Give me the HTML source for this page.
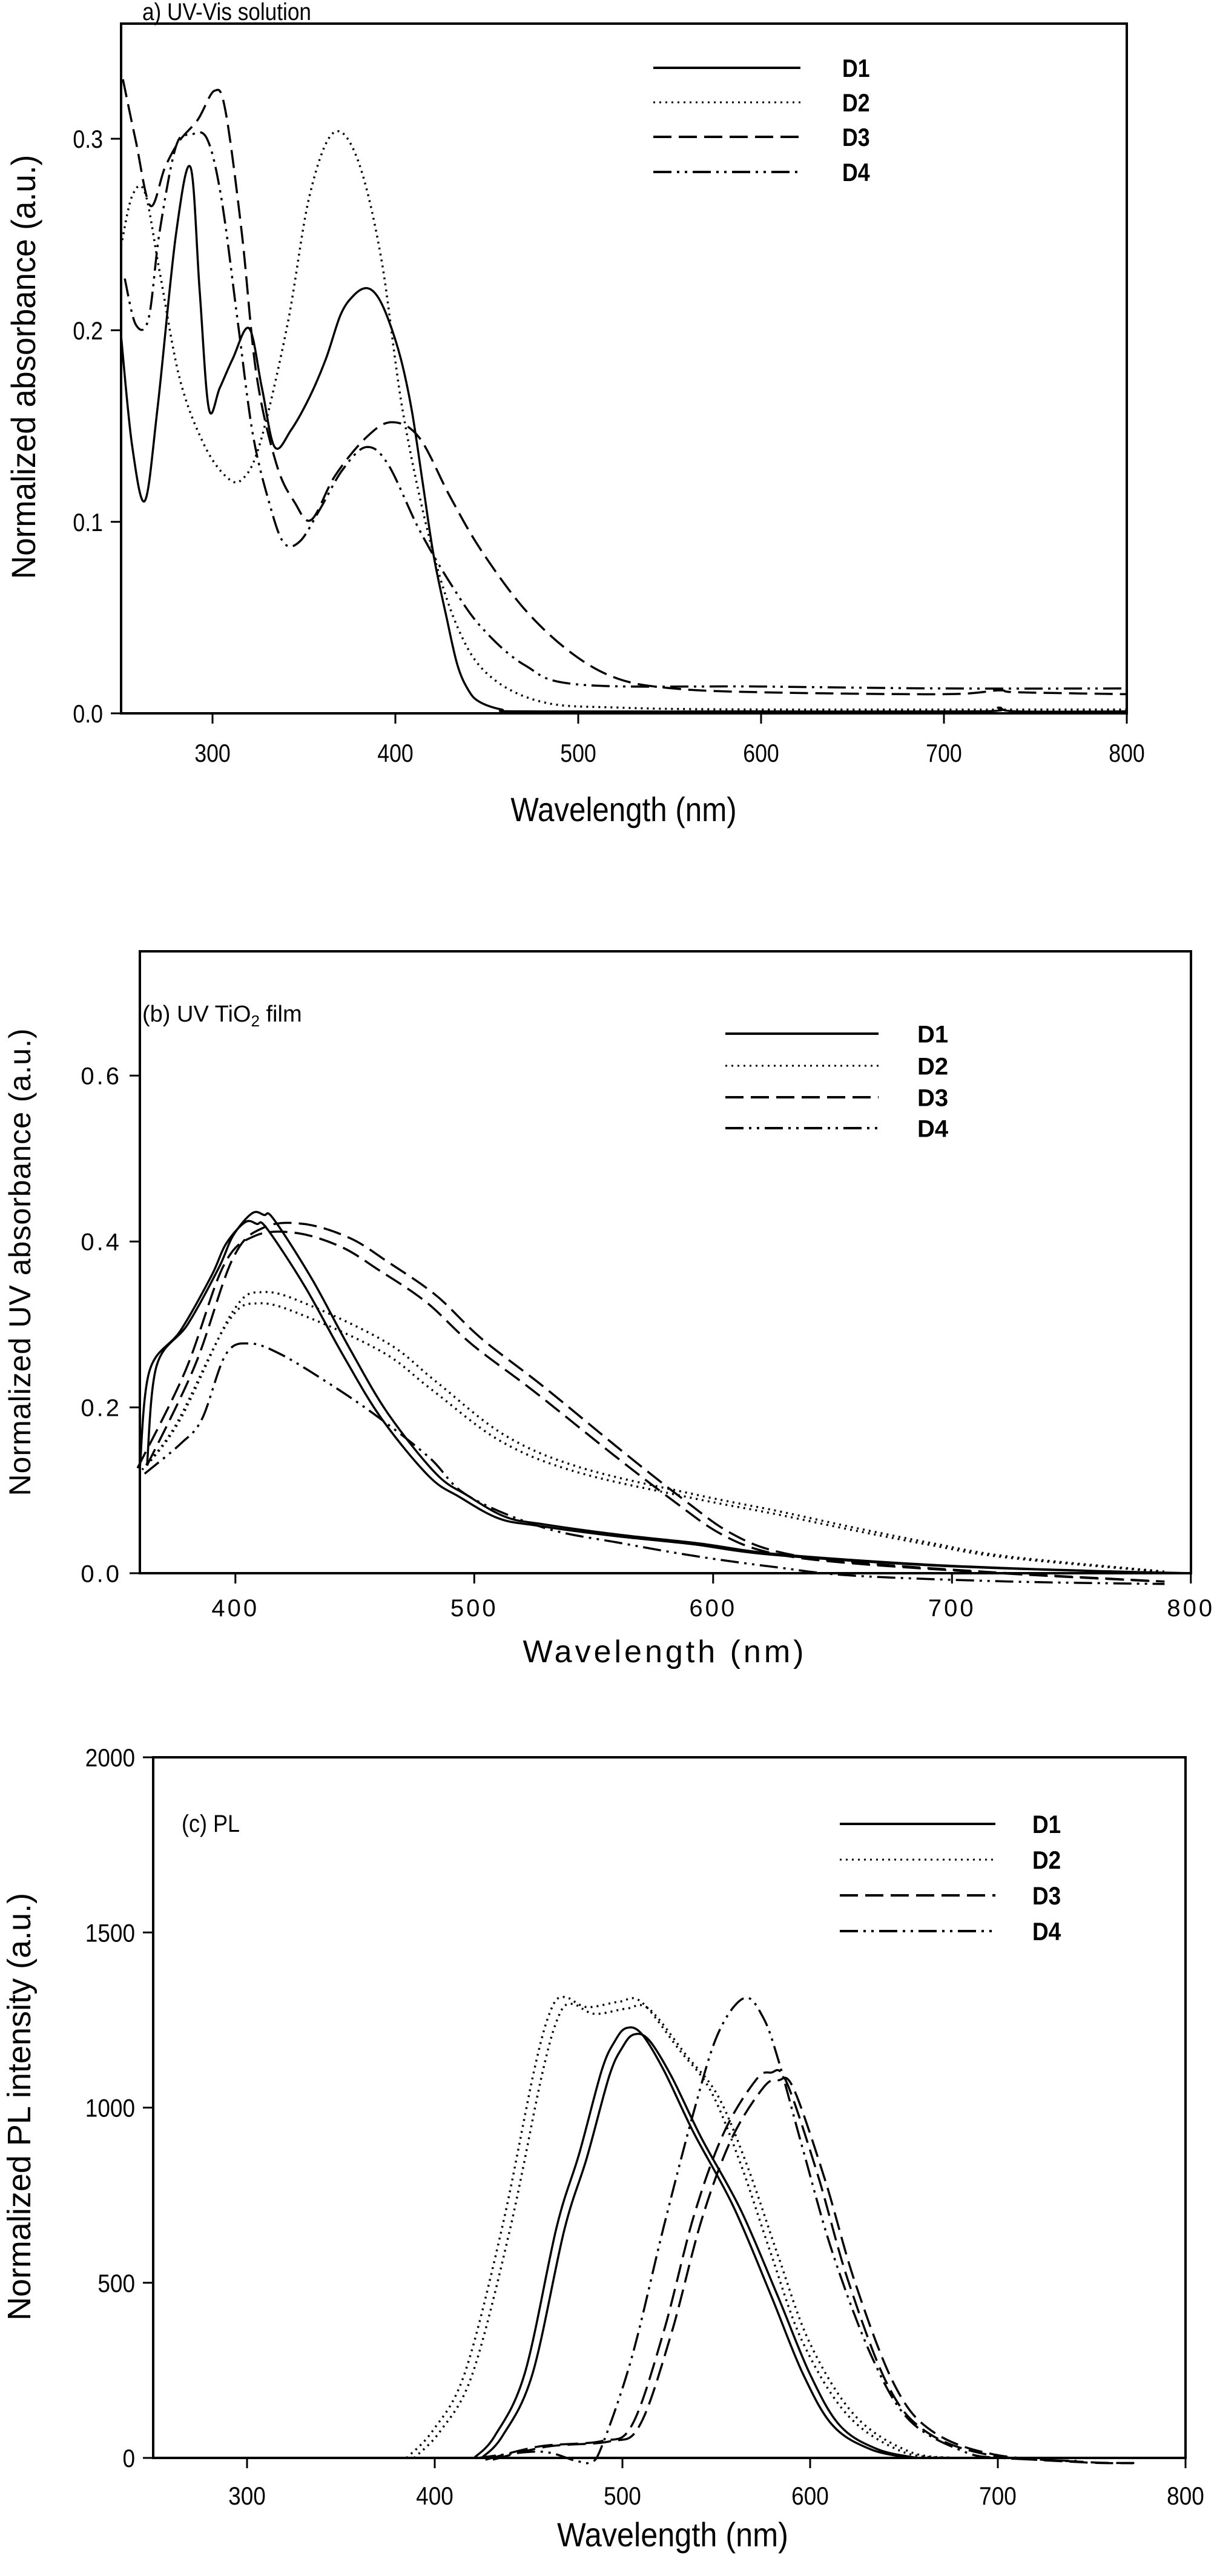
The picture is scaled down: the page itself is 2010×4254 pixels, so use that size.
<!DOCTYPE html>
<html><head><meta charset="utf-8">
<style>
html,body{margin:0;padding:0;background:#fff;}
svg{display:block;}
text{font-family:"Liberation Sans",sans-serif;fill:#000;}
</style></head>
<body>
<svg id="s" width="2010" height="4254" viewBox="0 0 2010 4254" xmlns="http://www.w3.org/2000/svg">
<rect width="2010" height="4254" fill="#fff"/>
<!-- Panel a -->
<g id="pa">
<rect x="200" y="39" width="1661" height="1139" fill="none" stroke="#000" stroke-width="4"/>
<text x="235" y="33" font-size="40" transform="translate(235 0) scale(0.88 1) translate(-235 0)">a) UV-Vis solution</text>
<text transform="translate(58 606) rotate(-90) scale(0.95 1)" font-size="56" text-anchor="middle">Normalized absorbance (a.u.)</text>
<text transform="translate(1030 1356) scale(0.88 1)" font-size="56" text-anchor="middle">Wavelength (nm)</text>
</g>
<!-- Panel b -->
<g id="pb">
<rect x="231" y="1571" width="1736" height="1027" fill="none" stroke="#000" stroke-width="4"/>
<text x="235" y="1687" font-size="38">(b) UV TiO<tspan font-size="26" dy="8">2</tspan><tspan dy="-8"> film</tspan></text>
<text transform="translate(50 2084) rotate(-90)" font-size="50" text-anchor="middle" letter-spacing="1">Normalized UV absorbance (a.u.)</text>
<text x="1098" y="2745" font-size="52" text-anchor="middle" letter-spacing="5">Wavelength (nm)</text>
</g>
<!-- Panel c -->
<g id="pc">
<rect x="253" y="2902" width="1705" height="1157" fill="none" stroke="#000" stroke-width="4"/>
<text x="300" y="3025" font-size="40" transform="translate(300 0) scale(0.9 1) translate(-300 0)">(c) PL</text>
<text transform="translate(50 3479) rotate(-90)" font-size="54" text-anchor="middle">Normalized PL intensity (a.u.)</text>
<text transform="translate(1111 4205) scale(0.9 1)" font-size="56" text-anchor="middle">Wavelength (nm)</text>
</g>
<g id="dyn"></g>
</svg>
<script>
var NS="http://www.w3.org/2000/svg";
var dyn=document.getElementById('dyn');
function el(t,a,txt){var e=document.createElementNS(NS,t);for(var k in a)e.setAttribute(k,a[k]);if(txt!==undefined)e.textContent=txt;dyn.appendChild(e);return e;}
var DASH={solid:"",dot:"3 7",dash:"30 12",dd:"30 9 4 9 4 9"};
function smooth(p){
  var d="M"+p[0][0].toFixed(1)+" "+p[0][1].toFixed(1);
  for(var i=0;i<p.length-1;i++){
    var p0=p[i-1]||p[i],p1=p[i],p2=p[i+1],p3=p[i+2]||p2;
    var c1x=p1[0]+(p2[0]-p0[0])/6,c1y=p1[1]+(p2[1]-p0[1])/6;
    var c2x=p2[0]-(p3[0]-p1[0])/6,c2y=p2[1]-(p3[1]-p1[1])/6;
    d+=" C"+c1x.toFixed(1)+" "+c1y.toFixed(1)+" "+c2x.toFixed(1)+" "+c2y.toFixed(1)+" "+p2[0].toFixed(1)+" "+p2[1].toFixed(1);
  }
  return d;
}
function panel(P){
  var X=function(w){return P.x0+(w-P.w0)*P.sx;};
  var Y=function(v){return P.yb-v*P.sy;};
  P.xt.forEach(function(w){
    var x=X(w);
    el('line',{x1:x,y1:P.yb,x2:x,y2:P.yb+17,stroke:'#000','stroke-width':3});
    el('text',{x:0,y:0,'font-size':P.fs,'text-anchor':'middle','letter-spacing':P.ls||0,transform:'translate('+x+' '+P.xlb+') scale('+P.cx+' 1)'},String(w));
  });
  P.yt.forEach(function(v){
    var y=Y(v[0]);
    el('line',{x1:P.x0-17,y1:y,x2:P.x0,y2:y,stroke:'#000','stroke-width':3});
    el('text',{x:0,y:0,'font-size':P.fs,'text-anchor':'end','letter-spacing':P.ls||0,transform:'translate('+(P.x0-30)+' '+(y+P.fs*0.36)+') scale('+P.cx+' 1)'},v[1]);
  });
  P.leg.forEach(function(L,i){
    var y=L.y;
    el('line',{x1:P.lx1,y1:y,x2:P.lx2,y2:y,stroke:'#000','stroke-width':L.s=='dot'?3:4,'stroke-dasharray':DASH[L.s]});
    el('text',{x:0,y:0,'font-size':P.lfs,'font-weight':'bold',transform:'translate('+P.ltx+' '+(y+P.lfs*0.36)+') scale('+P.cx+' 1)'},L.n);
  });
  P.c.forEach(function(c){
    var pts=c.p.map(function(q){return [X(q[0]+(c.dx||0)),Y(q[1]*(c.k||1))];});
    el('path',{d:smooth(pts),fill:'none',stroke:'#000','stroke-width':3.5,'stroke-dasharray':DASH[c.s],'stroke-linejoin':'round'});
  });
}
var a1=[[250,0.197],[256,0.14],[263,0.111],[270,0.16],[280,0.25],[288,0.285],[293,0.22],[298,0.159],[304,0.17],[311,0.185],[320,0.201],[327,0.17],[334,0.139],[343,0.148],[353,0.165],[362,0.185],[370,0.208],[377,0.218],[384,0.222],[390,0.218],[396,0.206],[403,0.185],[409,0.158],[415,0.12],[421,0.082],[428,0.05],[434,0.025],[440,0.012],[446,0.006],[458,0.002],[471,0.001],[600,0.001],[720,0.001],[730,0.003],[740,0.001],[800,0.001]];
var a2=[[250,0.244],[256,0.27],[263,0.272],[271,0.231],[282,0.175],[295,0.141],[307,0.124],[316,0.122],[326,0.141],[341,0.203],[353,0.27],[366,0.303],[379,0.29],[392,0.239],[404,0.158],[419,0.09],[434,0.045],[451,0.02],[480,0.006],[522,0.003],[600,0.002],[800,0.002]];
var a3=[[251,0.331],[258,0.299],[266,0.265],[274,0.285],[282,0.299],[292,0.31],[301,0.325],[307,0.315],[316,0.251],[324,0.177],[335,0.13],[345,0.11],[354,0.101],[367,0.124],[384,0.144],[398,0.152],[413,0.144],[430,0.113],[447,0.085],[471,0.054],[497,0.031],[522,0.018],[552,0.013],[600,0.011],[700,0.01],[730,0.012],[740,0.011],[800,0.01]];
var a4=[[252,0.227],[258,0.203],[265,0.206],[271,0.251],[280,0.296],[288,0.302],[297,0.3],[305,0.268],[314,0.203],[322,0.146],[331,0.11],[339,0.089],[348,0.09],[359,0.107],[371,0.127],[384,0.139],[396,0.13],[413,0.096],[430,0.068],[447,0.045],[471,0.025],[501,0.015],[600,0.014],[700,0.013],[800,0.013]];
panel({x0:200,w0:250,sx:151/50,yb:1178,sy:3163,fs:42,cx:0.85,xlb:1258,
 xt:[300,400,500,600,700,800],yt:[[0,'0.0'],[0.1,'0.1'],[0.2,'0.2'],[0.3,'0.3']],
 lx1:1079,lx2:1322,ltx:1391,lfs:42,
 leg:[{y:112,s:'solid',n:'D1'},{y:169,s:'dot',n:'D2'},{y:226,s:'dash',n:'D3'},{y:284,s:'dd',n:'D4'}],
 c:[{s:'solid',p:a1},{s:'dot',p:a2},{s:'dash',p:a3},{s:'dd',p:a4}]});
var b1=[[363,0.13],[367,0.25],[380,0.30],[393,0.368],[399,0.407],[407,0.434],[412,0.432],[416,0.427],[432,0.355],[448,0.27],[464,0.192],[484,0.12],[497,0.094],[513,0.068],[529,0.059],[562,0.046],[594,0.036],[627,0.023],[692,0.01],[757,0.003],[800,0]];
var b2=[[363,0.13],[377,0.186],[399,0.316],[412,0.339],[432,0.322],[464,0.277],[484,0.231],[513,0.166],[545,0.127],[594,0.094],[627,0.075],[659,0.055],[692,0.036],[724,0.02],[789,0.002]];
var b3=[[363,0.13],[383,0.25],[399,0.38],[412,0.417],[429,0.421],[448,0.404],[464,0.375],[484,0.335],[503,0.283],[529,0.225],[562,0.147],[588,0.088],[607,0.049],[627,0.026],[659,0.013],[724,0],[789,-0.01]];
var b4=[[362,0.12],[377,0.156],[386,0.186],[396,0.264],[406,0.277],[419,0.264],[438,0.231],[458,0.192],[481,0.14],[497,0.094],[529,0.055],[562,0.036],[594,0.02],[627,0.007],[659,-0.003],[724,-0.01],[789,-0.013]];
panel({x0:231,w0:360,sx:3.945,yb:2598,sy:1369.5,fs:40,cx:1,ls:4,xlb:2669,
 xt:[400,500,600,700,800],yt:[[0,'0.0'],[0.2,'0.2'],[0.4,'0.4'],[0.6,'0.6']],
 lx1:1198,lx2:1451,ltx:1515,lfs:40,
 leg:[{y:1707,s:'solid',n:'D1'},{y:1760,s:'dot',n:'D2'},{y:1812,s:'dash',n:'D3'},{y:1863,s:'dd',n:'D4'}],
 c:[{s:'solid',p:b1},{s:'solid',p:b1,dx:-3,k:0.975},{s:'dot',p:b2},{s:'dot',p:b2,dx:-2,k:0.96},{s:'dash',p:b3},{s:'dash',p:b3,dx:-4,k:0.975},{s:'dd',p:b4}]});
var c1=[[421,0],[432,63],[448,242],[465,660],[477,869],[489,1107],[496,1190],[502,1227],[510,1212],[522,1107],[538,928],[559,719],[579,466],[596,242],[612,93],[632,25],[653,0]];
var c2=[[385,0],[399,78],[416,242],[436,660],[453,1107],[462,1280],[469,1316],[481,1287],[498,1302],[510,1302],[530,1167],[547,1048],[563,839],[579,585],[596,331],[620,122],[649,18],[674,0]];
var c3=[[427,-5],[456,33],[489,48],[505,93],[522,361],[538,690],[554,928],[571,1078],[579,1100],[587,1078],[604,809],[620,510],[641,212],[661,78],[694,10],[743,-12],[772,-15]];
var c4=[[423,0],[456,18],[475,-8],[483,-12],[489,33],[505,287],[522,660],[538,988],[551,1212],[565,1313],[575,1257],[583,1137],[596,884],[612,585],[633,287],[653,107],[682,18],[702,0],[743,-9]];
panel({x0:253,w0:250,sx:155/50,yb:4059,sy:1157/2000,fs:42,cx:0.88,xlb:4136,
 xt:[300,400,500,600,700,800],yt:[[0,'0'],[500,'500'],[1000,'1000'],[1500,'1500'],[2000,'2000']],
 lx1:1387,lx2:1644,ltx:1705,lfs:42,
 leg:[{y:3012,s:'solid',n:'D1'},{y:3071,s:'dot',n:'D2'},{y:3130,s:'dash',n:'D3'},{y:3189,s:'dd',n:'D4'}],
 c:[{s:'solid',p:c1},{s:'solid',p:c1,dx:4,k:0.985},{s:'dot',p:c2},{s:'dot',p:c2,dx:4,k:0.985},{s:'dash',p:c3},{s:'dash',p:c3,dx:4,k:0.98},{s:'dd',p:c4}]});
</script>
</body></html>
